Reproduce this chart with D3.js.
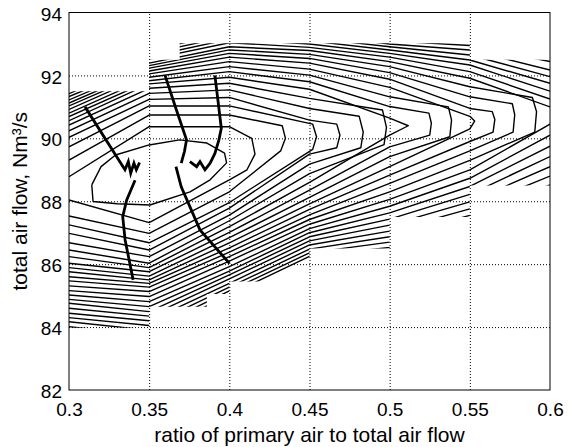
<!DOCTYPE html>
<html>
<head>
<meta charset="utf-8">
<script src="https://cdn.jsdelivr.net/npm/d3@7"></script>
<style>
body { margin: 0; background: #fff; }
text { font-family: "Liberation Sans", Arial, sans-serif; fill: #000; }
</style>
</head>
<body>
<div id="canvas"></div>
<script>
var w = 568;
var h = 447;

var xTicks = [0.3, 0.35, 0.4, 0.45, 0.5, 0.55, 0.6];
var xTickLabels = ["0.3", "0.35", "0.4", "0.45", "0.5", "0.55", "0.6"];
var yTicks = [82, 84, 86, 88, 90, 92, 94];

// contour lines, read at the x grid columns: upper arm, vertices at the tip, lower arm
var xCols = [0.3, 0.35, 0.4, 0.45, 0.5, 0.55, 0.6];

var upperArms = [
  [88.78, 90.37, 90.37, null, null, null, null],
  [89.31, 90.74, 90.74, null, null, null, null],
  [89.73, 91.03, 91.03, null, null, null, null],
  [90.03, 91.24, 91.30, 90.58, null, null, null],
  [90.24, 91.43, 91.54, 90.95, null, null, null],
  [90.42, 91.59, 91.75, 91.27, null, null, null],
  [90.56, 91.73, 91.94, 91.56, 90.64, null, null],
  [90.69, 91.83, 92.12, 91.80, 91.01, null, null],
  [90.80, 91.94, 92.28, 92.01, 91.32, null, null],
  [90.92, 92.05, 92.44, 92.20, 91.62, 90.70, null],
  [91.03, 92.14, 92.58, 92.39, 91.88, 90.95, null],
  [91.12, 92.23, 92.70, 92.54, 92.09, 91.32, null],
  [91.22, 92.31, 92.81, 92.67, 92.28, 91.64, null],
  [91.33, 92.39, 92.91, 92.79, 92.44, 91.91, 91.00],
  [91.42, 92.51, 93.04, 92.89, 92.58, 92.12, 91.25],
  [91.52, 92.60, 93.15, 93.00, 92.70, 92.33, 91.50],
  [91.62, 92.70, 93.25, 93.10, 92.81, 92.49, 91.75],
  [91.72, 92.80, 93.35, 93.20, 92.91, 92.65, 91.96],
  [91.82, 92.90, 93.45, 93.30, 93.00, 92.81, 92.17],
  [91.92, 93.00, 93.55, 93.40, 93.10, 92.95, 92.44],
  [92.02, 93.10, 93.65, 93.50, 93.20, 93.10, 92.60],
  [92.12, 93.20, 93.75, 93.60, 93.30, 93.20, 92.80]
];

var tipVertices = [
  [[0.414, 90.0], [0.416, 89.5], [0.411, 89.0]],
  [[0.433, 90.4], [0.435, 90.0], [0.432, 89.6]],
  [[0.452, 90.45], [0.4544, 90.05], [0.452, 89.65]],
  [[0.467, 90.45], [0.469, 90.1], [0.467, 89.7]],
  [[0.481, 90.7], [0.4835, 90.2], [0.482, 89.7]],
  [[0.4955, 90.9], [0.498, 90.35], [0.4965, 89.8]],
  [[0.5116, 90.4]],
  [[0.5245, 90.8], [0.526, 90.48], [0.525, 90.1]],
  [[0.5366, 91.0], [0.5386, 90.58], [0.5375, 90.05]],
  [[0.553, 90.55]],
  [[0.564, 90.85], [0.5656, 90.6], [0.5645, 90.2]],
  [[0.5765, 91.1], [0.578, 90.75], [0.577, 90.2]],
  [[0.589, 91.3], [0.5916, 90.85], [0.5905, 90.2]],
  null, null, null, null, null, null, null, null, null
];

var lowerArms = [
  [88.04, 87.32, 88.68, null, null, null, null],
  [87.53, 86.98, 88.30, null, null, null, null],
  [87.25, 86.68, 87.96, null, null, null, null],
  [86.98, 86.45, 87.78, 89.50, null, null, null],
  [86.68, 86.24, 87.56, 89.18, null, null, null],
  [86.45, 86.03, 87.38, 88.88, null, null, null],
  [86.24, 85.89, 87.19, 88.60, 90.10, null, null],
  [86.03, 85.76, 87.01, 88.35, 89.73, null, null],
  [85.89, 85.62, 86.84, 88.12, 89.42, null, null],
  [85.76, 85.50, 86.68, 87.92, 89.10, 90.30, null],
  [85.60, 85.39, 86.52, 87.74, 88.83, 89.90, null],
  [85.47, 85.27, 86.38, 87.57, 88.57, 89.60, null],
  [85.31, 85.13, 86.24, 87.42, 88.30, 89.30, null],
  [85.16, 84.97, 86.10, 87.27, 88.06, 89.00, 90.45],
  [85.02, 84.81, 85.92, 87.13, 87.84, 88.73, 90.10],
  [84.88, 84.65, 85.78, 87.00, 87.63, 88.47, 89.75],
  [84.76, 84.49, 85.66, 86.87, 87.43, 88.22, 89.42],
  [84.60, 84.35, 85.53, 86.74, 87.24, 87.98, 89.10],
  [84.44, 84.20, 85.39, 86.61, 87.05, 87.76, 88.80],
  [84.30, 84.05, 85.27, 86.48, 86.87, 87.55, 88.52],
  [84.17, 83.90, 85.15, 86.36, 86.70, 87.35, 88.30],
  [84.01, 83.75, 85.03, 86.25, 86.53, 87.15, 88.10]
];

// innermost closed contour
var innerLoop = [[0.3142, 88.52], [0.320, 89.10], [0.329, 89.47], [0.35, 89.79], [0.369, 89.95],
  [0.386, 89.85], [0.397, 89.53], [0.3983, 89.22], [0.388, 88.68], [0.3755, 88.30],
  [0.3505, 87.88], [0.33, 87.92], [0.315, 87.99], [0.3142, 88.52]];

// border of the region where the data exist
var regionTop = [[0.3, 91.5], [0.35, 91.5], [0.35, 92.5], [0.369, 92.5], [0.369, 93.02],
  [0.55, 93.02], [0.55, 92.5], [0.6, 92.5]];
var regionBottom = [[0.6, 88.5], [0.55, 88.5], [0.55, 87.5], [0.5, 87.5], [0.5, 86.5],
  [0.45, 86.5], [0.45, 85.45], [0.4, 85.45], [0.4, 85.05], [0.386, 85.05], [0.386, 84.65],
  [0.35, 84.65], [0.35, 83.98], [0.3, 83.98]];

// thick paths
var thickPaths = [
  [[0.310, 91.0], [0.3349, 89.0], [0.337, 89.26], [0.3385, 88.89], [0.3405, 89.21], [0.342, 89.0], [0.344, 89.23]],
  [[0.3412, 88.67], [0.336, 88.04], [0.3335, 87.51], [0.335, 86.77], [0.340, 85.5]],
  [[0.3599, 92.0], [0.367, 90.9], [0.3733, 89.95], [0.372, 89.58], [0.370, 89.21]],
  [[0.391, 92.0], [0.395, 90.32], [0.3935, 89.95], [0.391, 89.52], [0.388, 89.21], [0.3848, 89.0],
   [0.3817, 89.26], [0.3796, 89.1], [0.3754, 89.26]],
  [[0.3667, 89.1], [0.370, 88.46], [0.3817, 87.09], [0.4, 86.03]]
];

var x = d3.scaleLinear().domain([0.3, 0.6]).range([69, 550]);
var y = d3.scaleLinear().domain([82, 94]).range([390, 12.5]);

var canvas = d3.select("#canvas")
  .append("svg")
  .attr("width", w)
  .attr("height", h);

// dotted grid
canvas.append("g")
  .attr("transform", "translate(0," + y(82) + ")")
  .call(d3.axisBottom(x).tickValues(xTicks.slice(1, -1)).tickSize(-(y(82) - y(94))).tickFormat(""))
  .call(g => g.select(".domain").remove())
  .selectAll("line")
  .attr("stroke", "#000")
  .attr("stroke-dasharray", "1,2");

canvas.append("g")
  .attr("transform", "translate(" + x(0.3) + ",0)")
  .call(d3.axisLeft(y).tickValues(yTicks.slice(1, -1)).tickSize(-(x(0.6) - x(0.3))).tickFormat(""))
  .call(g => g.select(".domain").remove())
  .selectAll("line")
  .attr("stroke", "#000")
  .attr("stroke-dasharray", "1,2");

// clip to the data region
var regionPts = regionTop.concat(regionBottom);
canvas.append("clipPath")
  .attr("id", "region")
  .append("polygon")
  .attr("points", regionPts.map(d => x(d[0]) + "," + y(d[1])).join(" "));

var line = d3.line()
  .defined(d => d !== null)
  .x(d => x(d[0]))
  .y(d => y(d[1]));

var contourPts = upperArms.map(function(up, k) {
  var pts = [];
  xCols.forEach(function(c, i) { if (up[i] !== null) pts.push([c, up[i]]); });
  if (tipVertices[k]) pts = pts.concat(tipVertices[k]);
  else pts.push(null);
  for (var i = xCols.length - 1; i >= 0; i--) {
    if (lowerArms[k][i] !== null) pts.push([xCols[i], lowerArms[k][i]]);
  }
  return pts;
});
contourPts.push(innerLoop);

canvas.append("g")
  .attr("clip-path", "url(#region)")
  .selectAll("path")
  .data(contourPts)
  .join("path")
  .attr("d", line)
  .attr("fill", "none")
  .attr("stroke", "#000")
  .attr("stroke-width", 1.4)
  .attr("stroke-linejoin", "round");

canvas.append("g")
  .selectAll("path")
  .data(thickPaths)
  .join("path")
  .attr("d", line)
  .attr("fill", "none")
  .attr("stroke", "#000")
  .attr("stroke-width", 2.8)
  .attr("stroke-linejoin", "miter");

// axes box
canvas.append("rect")
  .attr("x", x(0.3))
  .attr("y", y(94))
  .attr("width", x(0.6) - x(0.3))
  .attr("height", y(82) - y(94))
  .attr("fill", "none")
  .attr("stroke", "#000")
  .attr("stroke-width", 1);

// tick labels
var xAxis = canvas.append("g")
  .attr("transform", "translate(0," + y(82) + ")")
  .call(d3.axisBottom(x).tickValues(xTicks).tickSize(0).tickFormat((d, i) => xTickLabels[i]));
xAxis.select(".domain").remove();
xAxis.selectAll("text")
  .attr("y", 26)
  .attr("dy", null)
  .style("font-size", "19px")
  .style("font-family", "'Liberation Sans', Arial, sans-serif");

var yAxis = canvas.append("g")
  .attr("transform", "translate(" + x(0.3) + ",0)")
  .call(d3.axisLeft(y).tickValues(yTicks).tickSize(0));
yAxis.select(".domain").remove();
yAxis.selectAll("text")
  .attr("x", -7)
  .attr("dy", "0.4em")
  .style("font-size", "19px")
  .style("font-family", "'Liberation Sans', Arial, sans-serif");

canvas.append("text")
  .attr("x", (x(0.3) + x(0.6)) / 2)
  .attr("y", 442)
  .attr("text-anchor", "middle")
  .style("font-size", "21px")
  .text("ratio of primary air to total air flow");

canvas.append("text")
  .attr("transform", "translate(27," + (y(82) + y(94)) / 2 + ") rotate(-90)")
  .attr("text-anchor", "middle")
  .style("font-size", "21px")
  .text("total air flow, Nm³/s");
</script>
</body>
</html>
